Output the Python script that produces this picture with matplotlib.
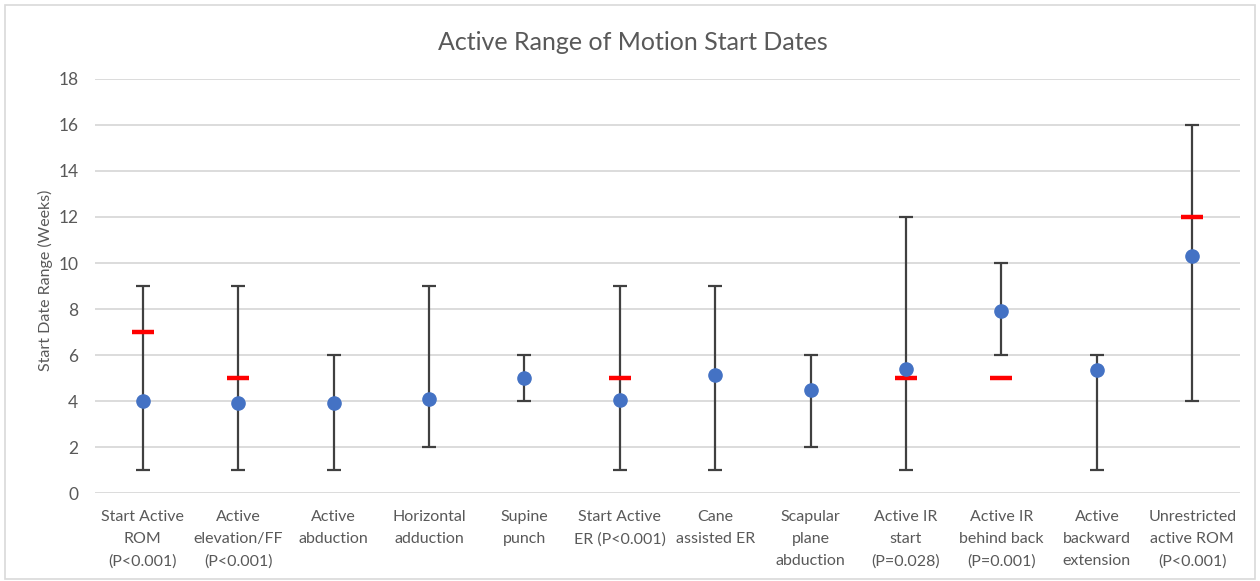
import numpy as np
import matplotlib
matplotlib.use("Agg")
import matplotlib.pyplot as plt
from matplotlib.patches import Rectangle

plt.rcParams['font.family'] = ['Lato', 'DejaVu Sans']

categories = [
    "Start Active\nROM\n(P<0.001)",
    "Active\nelevation/FF\n(P<0.001)",
    "Active\nabduction",
    "Horizontal\nadduction",
    "Supine\npunch",
    "Start Active\nER (P<0.001)",
    "Cane\nassisted ER",
    "Scapular\nplane\nabduction",
    "Active IR\nstart\n(P=0.028)",
    "Active IR\nbehind back\n(P=0.001)",
    "Active\nbackward\nextension",
    "Unrestricted\nactive ROM\n(P<0.001)",
]
mean_start = [4.0, 3.9, 3.9, 4.1, 5.0, 4.05, 5.15, 4.5, 5.4, 7.9, 5.35, 10.3]
range_min = [1, 1, 1, 2, 4, 1, 1, 2, 1, 6, 1, 4]
range_max = [9, 9, 6, 9, 6, 9, 9, 6, 12, 10, 6, 16]
protocol_start = [7, 5, np.nan, np.nan, np.nan, 5, np.nan, np.nan, 5, 5, np.nan, 12]
y_ticks = [0, 2, 4, 6, 8, 10, 12, 14, 16, 18]

text_color = "#595959"
grid_color = "#d9d9d9"

fig = plt.figure(figsize=(12.6, 5.81), dpi=100)
fig.patches.append(Rectangle((0.004, 0.004), 0.992, 0.988, transform=fig.transFigure,
                             fill=False, edgecolor="#d9d9d9", linewidth=1.2))
ax = fig.add_axes([95 / 1260, (581 - 493) / 581, (1240 - 95) / 1260, (493 - 79) / 581])

x = np.arange(len(categories))
mean_arr = np.array(mean_start)
lower = mean_arr - np.array(range_min)
upper = np.array(range_max) - mean_arr

ax.errorbar(x, mean_arr, yerr=[lower, upper], fmt='none', ecolor="#404040",
            elinewidth=1.6, capsize=5, capthick=1.6, zorder=2)
ax.plot(x, protocol_start, linestyle='none', marker='_', markersize=16,
        markeredgewidth=3.2, color="#ff0000", zorder=3)
ax.plot(x, mean_arr, linestyle='none', marker='o', markersize=9.5,
        color="#4472c4", zorder=4)

ax.set_xlim(-0.5, len(categories) - 0.5)
ax.set_ylim(0, 18)
ax.set_yticks(y_ticks)
ax.set_yticklabels([str(t) for t in y_ticks])
ax.set_xticks(x)
ax.set_xticklabels(categories, linespacing=1.75)
ax.tick_params(axis='both', length=0, colors=text_color)
ax.tick_params(axis='x', pad=12, labelsize=11.5)
ax.tick_params(axis='y', pad=12, labelsize=12.5)
ax.yaxis.grid(True, color=grid_color, linewidth=1.3)
ax.set_axisbelow(True)
for s in ax.spines.values():
    s.set_visible(False)

fig.text(45 / 1260, 1 - 280 / 581, "Start Date Range (Weeks)", rotation=90,
         ha='center', va='center', fontsize=11.5, color=text_color)
fig.text(633 / 1260, 1 - 42 / 581, "Active Range of Motion Start Dates", ha='center',
         va='center', fontsize=18, color=text_color)

fig.savefig("out.png", dpi=100)
